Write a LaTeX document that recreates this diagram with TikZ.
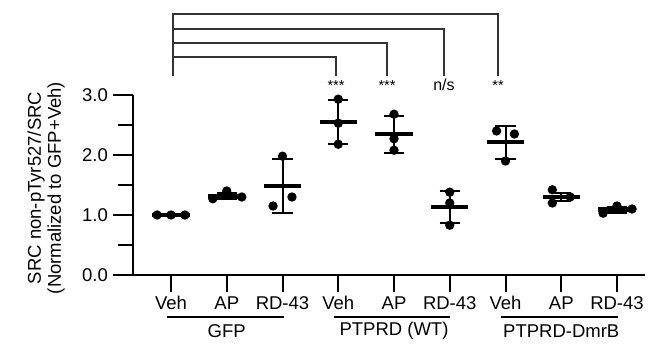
\documentclass[tikz,border=0pt]{standalone}
\usepackage{fontspec}
\setmainfont{Liberation Sans}
\begin{document}
\begin{tikzpicture}[x=1pt,y=1pt,
  axis/.style={line width=2pt},
  meanbar/.style={line width=4.5pt},
  sdbar/.style={line width=2pt},
  bracket/.style={line width=1.3pt,black!80},
  grpline/.style={line width=1.3pt},
  lbl/.style={font=\fontsize{18.5}{20}\selectfont,inner sep=0pt},
  sig/.style={font=\fontsize{14.5}{15}\selectfont,inner sep=0pt,anchor=base}]
\useasboundingbox (0,0) rectangle (648,343);
\node[lbl,rotate=90,align=center] (ytitle) at (46,155) {SRC non-pTyr527/SRC\\(Normalized to GFP+Veh)};
\begin{scope}[shift={(115.25,68)},x=55.75pt,y=60pt]
\draw [axis] (0.318,3) -- (0.318,0) -- (9.5,0);
\draw [axis] (-0.04,0) -- (0.318,0);
\draw [axis] (-0.04,1) -- (0.318,1);
\draw [axis] (-0.04,2) -- (0.318,2);
\draw [axis] (-0.04,3) -- (0.318,3);
\draw [axis] (0.05,0.5) -- (0.318,0.5);
\draw [axis] (0.05,1.5) -- (0.318,1.5);
\draw [axis] (0.05,2.5) -- (0.318,2.5);
\node[lbl,anchor=east] (ylab0) at (-0.13,0) {0.0};
\node[lbl,anchor=east] (ylab1) at (-0.13,1) {1.0};
\node[lbl,anchor=east] (ylab2) at (-0.13,2) {2.0};
\node[lbl,anchor=east] (ylab3) at (-0.13,3) {3.0};
\draw [axis] (1,0) -- (1,-0.28);
\draw [axis] (2,0) -- (2,-0.28);
\draw [axis] (3,0) -- (3,-0.28);
\draw [axis] (4,0) -- (4,-0.28);
\draw [axis] (5,0) -- (5,-0.28);
\draw [axis] (6,0) -- (6,-0.28);
\draw [axis] (7,0) -- (7,-0.28);
\draw [axis] (8,0) -- (8,-0.28);
\draw [axis] (9,0) -- (9,-0.28);
\node[lbl] (veh1) at (1,-0.47) {Veh};
\node[lbl] (ap1) at (2,-0.47) {AP};
\node[lbl] (rd1) at (3,-0.47) {RD-43};
\node[lbl] (veh2) at (4,-0.47) {Veh};
\node[lbl] (ap2) at (5,-0.47) {AP};
\node[lbl] (rd2) at (6,-0.47) {RD-43};
\node[lbl] (veh3) at (7,-0.47) {Veh};
\node[lbl] (ap3) at (8,-0.47) {AP};
\node[lbl] (rd3) at (9,-0.47) {RD-43};
\draw [grpline] (0.92,-0.7) -- (3.02,-0.7);
\draw [grpline] (3.92,-0.7) -- (6.01,-0.7);
\draw [grpline] (6.92,-0.7) -- (9.02,-0.7);
\node[lbl] (gfp) at (2,-0.93) {GFP};
\node[lbl] (wt) at (5,-0.93) {PTPRD (WT)};
\node[lbl] (dmrb) at (8,-0.93) {PTPRD-DmrB};
\draw [bracket] (1.036,3.317) -- (1.036,4.35) -- (6.866,4.35) -- (6.866,3.317);
\draw [bracket] (1.036,4.1) -- (5.897,4.1) -- (5.897,3.317);
\draw [bracket] (1.036,3.867) -- (4.875,3.867) -- (4.875,3.317);
\draw [bracket] (1.036,3.633) -- (3.96,3.633) -- (3.96,3.317);
\node[sig] (sig4) at (3.96,3.07) {***};
\node[sig] (sig5) at (4.875,3.07) {***};
\node[sig,font=\fontsize{16}{17}\selectfont] (sig6) at (5.897,3.07) {n/s};
\node[sig] (sig7) at (6.866,3.07) {**};
\draw [meanbar] (0.665,1) -- (1.335,1);
\fill (0.75,1) circle (4.7pt) (1,1) circle (4.7pt) (1.25,1) circle (4.7pt);
\draw [sdbar] (1.82,1.26) -- (2.18,1.26) (2,1.26) -- (2,1.36) (1.82,1.36) -- (2.18,1.36);
\draw [meanbar] (1.665,1.31) -- (2.335,1.31);
\fill (1.75,1.27) circle (4.7pt) (2,1.4) circle (4.7pt) (2.27,1.3) circle (4.7pt);
\draw [sdbar] (2.82,1.03) -- (3.18,1.03) (3,1.03) -- (3,1.93) (2.82,1.93) -- (3.18,1.93);
\draw [meanbar] (2.665,1.48) -- (3.335,1.48);
\fill (3,1.98) circle (4.7pt) (2.83,1.15) circle (4.7pt) (3.17,1.3) circle (4.7pt);
\draw [sdbar] (3.82,2.18) -- (4.18,2.18) (4,2.18) -- (4,2.92) (3.82,2.92) -- (4.18,2.92);
\draw [meanbar] (3.665,2.55) -- (4.335,2.55);
\fill (4,2.93) circle (4.7pt) (4,2.53) circle (4.7pt) (4,2.18) circle (4.7pt);
\draw [sdbar] (4.82,2.03) -- (5.18,2.03) (5,2.03) -- (5,2.65) (4.82,2.65) -- (5.18,2.65);
\draw [meanbar] (4.665,2.35) -- (5.335,2.35);
\fill (5,2.68) circle (4.7pt) (5,2.27) circle (4.7pt) (5,2.08) circle (4.7pt);
\draw [sdbar] (5.82,0.87) -- (6.18,0.87) (6,0.87) -- (6,1.4) (5.82,1.4) -- (6.18,1.4);
\draw [meanbar] (5.665,1.13) -- (6.335,1.13);
\fill (6,1.38) circle (4.7pt) (6,1.2) circle (4.7pt) (6,0.83) circle (4.7pt);
\draw [sdbar] (6.82,1.93) -- (7.18,1.93) (7,1.93) -- (7,2.48) (6.82,2.48) -- (7.18,2.48);
\draw [meanbar] (6.665,2.22) -- (7.335,2.22);
\fill (6.84,2.4) circle (4.7pt) (7.16,2.35) circle (4.7pt) (7,1.9) circle (4.7pt);
\draw [sdbar] (7.82,1.23) -- (8.18,1.23) (8,1.23) -- (8,1.37) (7.82,1.37) -- (8.18,1.37);
\draw [meanbar] (7.665,1.3) -- (8.335,1.3);
\fill (7.84,1.42) circle (4.7pt) (7.84,1.2) circle (4.7pt) (8.16,1.3) circle (4.7pt);
\draw [sdbar] (8.82,1.04) -- (9.18,1.04) (9,1.04) -- (9,1.14) (8.82,1.14) -- (9.18,1.14);
\draw [meanbar] (8.665,1.09) -- (9.335,1.09);
\fill (8.75,1.03) circle (4.7pt) (9,1.15) circle (4.7pt) (9.27,1.1) circle (4.7pt);
\end{scope}
\end{tikzpicture}
\end{document}
